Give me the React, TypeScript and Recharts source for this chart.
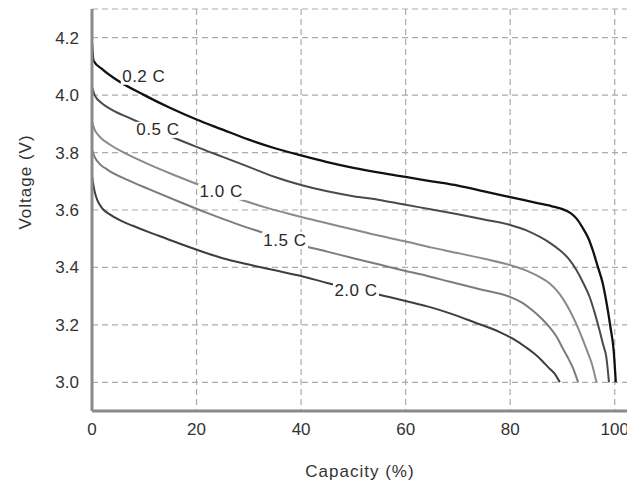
import React from 'react';
import { LineChart, Line, XAxis, YAxis, CartesianGrid, ReferenceDot } from 'recharts';

const capacityTicks = [0, 20, 40, 60, 80, 100];
const voltageTicks = [3.0, 3.2, 3.4, 3.6, 3.8, 4.0, 4.2];

const cap02 = [0, 0.3, 2, 5, 10, 15, 20, 25, 30, 35, 40, 45, 50, 55, 60, 65, 70, 75, 80, 85, 88, 90, 91.5, 92.7, 93.8, 95, 95.8, 96.8, 97.7, 98.5, 99.2, 99.8, 100.2];
const volt02 = [4.18, 4.12, 4.09, 4.05, 4.0, 3.955, 3.915, 3.88, 3.845, 3.815, 3.79, 3.767, 3.747, 3.73, 3.715, 3.7, 3.685, 3.665, 3.645, 3.625, 3.613, 3.603, 3.59, 3.57, 3.54, 3.5, 3.46, 3.4, 3.345, 3.27, 3.19, 3.11, 3.0];

const cap05 = [0, 0.5, 2, 4, 6.7, 10, 15, 20, 25, 30, 35, 40, 45, 50, 55, 60, 65, 70, 75, 80, 83, 85.7, 87.8, 89.5, 91.2, 92.7, 94, 95.2, 96.2, 97.1, 97.8, 98.4, 98.9];
const volt05 = [4.03, 4.0, 3.97, 3.947, 3.924, 3.897, 3.857, 3.82, 3.785, 3.75, 3.715, 3.687, 3.665, 3.648, 3.635, 3.618, 3.602, 3.585, 3.567, 3.548, 3.53, 3.506, 3.483, 3.46, 3.43, 3.39, 3.345, 3.297, 3.24, 3.18, 3.13, 3.087, 3.0];

const cap10 = [0, 0.5, 1.5, 3.4, 7, 11, 15, 18.7, 23, 28.7, 33, 38, 43.6, 50, 55, 60, 65, 70, 75, 80, 83, 85.7, 87.5, 88.9, 90.2, 91.4, 92.6, 93.7, 94.7, 95.6, 96.5];
const volt10 = [3.907, 3.88, 3.855, 3.828, 3.792, 3.758, 3.727, 3.7, 3.67, 3.635, 3.61, 3.585, 3.56, 3.532, 3.51, 3.49, 3.469, 3.45, 3.43, 3.408, 3.39, 3.366, 3.345, 3.32, 3.288, 3.25, 3.205, 3.157, 3.11, 3.066, 3.0];

const cap15 = [0, 0.5, 1.5, 3, 7, 11, 16.8, 22, 27, 32, 37, 41, 45, 50, 55, 59, 64, 68.5, 74, 80, 82.5, 84.3, 86, 87.6, 89, 90, 91, 92, 93];
const volt15 = [3.81, 3.785, 3.76, 3.74, 3.703, 3.672, 3.628, 3.59, 3.556, 3.525, 3.495, 3.473, 3.455, 3.432, 3.41, 3.392, 3.371, 3.35, 3.325, 3.297, 3.275, 3.25, 3.222, 3.19, 3.155, 3.12, 3.087, 3.05, 3.0];

const cap20 = [0, 0.5, 1, 2, 3.4, 5.5, 7.8, 11, 14.3, 17.5, 20.6, 25, 30, 35, 40, 45, 50, 55, 60, 65, 68.5, 73, 78, 80.5, 83, 84.6, 86, 87.3, 88.5, 89.5];
const volt20 = [3.72, 3.665, 3.635, 3.605, 3.585, 3.563, 3.545, 3.522, 3.5, 3.478, 3.458, 3.432, 3.41, 3.39, 3.37, 3.346, 3.325, 3.305, 3.283, 3.26, 3.24, 3.21, 3.175, 3.152, 3.122, 3.1, 3.077, 3.052, 3.03, 3.0];

const rateNames = ['0.2 C', '0.5 C', '1.0 C', '1.5 C', '2.0 C'];
const labelCapacity = [9.9, 12.6, 24.7, 36.9, 50.5];
const labelVoltage = [4.064, 3.879, 3.663, 3.495, 3.321];

const zip = (xs: number[], ys: number[]) => xs.map((x, i) => ({ x, v: ys[i] }));

const seriesList = [
  { data: zip(cap02, volt02), color: '#111111', width: 2.3 },
  { data: zip(cap05, volt05), color: '#4a4a4a', width: 2 },
  { data: zip(cap10, volt10), color: '#8a8a8a', width: 2 },
  { data: zip(cap15, volt15), color: '#7c7c7c', width: 2 },
  { data: zip(cap20, volt20), color: '#3e3e3e', width: 2 },
];

const FONT = '"Liberation Sans", Arial, Helvetica, sans-serif';
const AXIS = '#8a8a8a';

const CurveLabel = (props: any) => {
  const { viewBox, text } = props;
  if (!viewBox) return null;
  const cx = viewBox.x + (viewBox.width || 0) / 2;
  const cy = viewBox.y + (viewBox.height || 0) / 2;
  return (
    <g>
      <rect x={cx - 23} y={cy - 8} width={46} height={16} fill="#ffffff" />
      <text x={cx} y={cy} textAnchor="middle" dominantBaseline="central" fontSize={17}
        fontFamily={FONT} fill="#2a2a2a" letterSpacing={0.5}>{text}</text>
    </g>
  );
};

const YTitle = (props: any) => {
  const { viewBox } = props;
  const x = viewBox.x + 25;
  const y = viewBox.y + viewBox.height / 2 - 28;
  return (
    <text x={x} y={y} transform={`rotate(-90 ${x} ${y})`} textAnchor="middle" dominantBaseline="central"
      fontSize={17} fontFamily={FONT} fill="#333" letterSpacing={1}>Voltage (V)</text>
  );
};

const XTitle = () => {
  return (
    <text x={360} y={477} textAnchor="middle" fontSize={17} fontFamily={FONT} fill="#333" letterSpacing={1}>Capacity (%)</text>
  );
};

export default function App() {
  return (
    <div style={{ position: 'absolute', left: 0, top: 0, width: 627, height: 483, overflow: 'hidden', background: '#fff' }}>
      <LineChart width={680} height={483} margin={{ top: 9, right: 13, bottom: 0, left: 0 }}>
        <CartesianGrid stroke="#ababab" strokeWidth={1.2} strokeDasharray="6 4" />
        <XAxis dataKey="x" type="number" domain={[0, 110]} ticks={capacityTicks} allowDataOverflow
          axisLine={{ stroke: AXIS, strokeWidth: 3 }} tickLine={false} tickSize={0} tickMargin={12} height={72}
          tick={{ fill: '#333', fontSize: 17, fontFamily: FONT }} label={<XTitle />} />
        <XAxis xAxisId="top" orientation="top" type="number" domain={[0, 110]} tick={false} tickLine={false}
          height={0} axisLine={{ stroke: AXIS, strokeWidth: 2.5 }} />
        <YAxis type="number" domain={[2.9, 4.3]} ticks={voltageTicks} allowDataOverflow width={92}
          axisLine={{ stroke: AXIS, strokeWidth: 3 }} tickLine={false} tickSize={0} tickMargin={13}
          tickFormatter={(v: number) => v.toFixed(1)}
          tick={{ fill: '#333', fontSize: 17, fontFamily: FONT }} label={<YTitle />} />
        {seriesList.map((s, i) => (
          <Line key={i} data={s.data} dataKey="v" type="monotone" stroke={s.color} strokeWidth={s.width}
            dot={false} activeDot={false} isAnimationActive={false} />
        ))}
        {rateNames.map((name, i) => (
          <ReferenceDot key={name} x={labelCapacity[i]} y={labelVoltage[i]} r={1} fill="none" stroke="none"
            label={<CurveLabel text={name} />} />
        ))}
      </LineChart>
    </div>
  );
}
